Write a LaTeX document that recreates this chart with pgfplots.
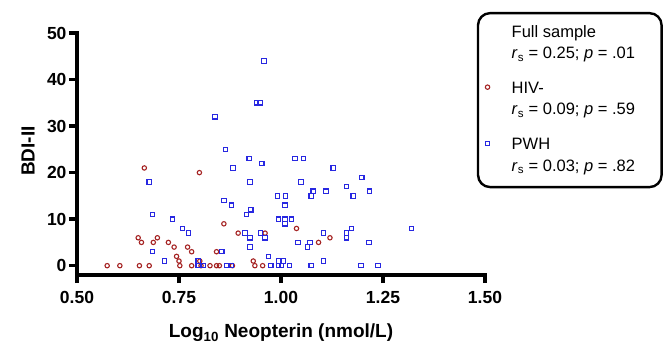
\documentclass[border=0pt]{standalone}
\usepackage{pgfplots}
\pgfplotsset{compat=1.18}
\usepackage{fontspec}
\setmainfont{Liberation Sans}
\definecolor{hivred}{RGB}{165,35,35}
\definecolor{pwhblue}{RGB}{40,40,225}
\begin{document}
\begin{tikzpicture}
\useasboundingbox (-77pt,-68pt) rectangle (590pt,275pt);
\begin{axis}[
  scale only axis, width=408pt, height=242pt,
  xmin=0.5, xmax=1.5, ymin=-2, ymax=50,
  axis lines=left,
  axis line style={line width=3.4pt, -, line cap=rect},
  x axis line style={line width=3.4pt},
  y axis line style={line width=3.4pt},
  tick style={line width=3.4pt, black},
  major tick length=8pt, tick align=outside, tick pos=left,
  xtick={0.5,0.75,1,1.25,1.5},
  xticklabels={0.50,0.75,1.00,1.25,1.50},
  ytick={0,10,20,30,40,50},
  /pgf/number format/assume math mode=true,
  tick label style={font=\bfseries\fontsize{17.5pt}{20pt}\selectfont},
  xticklabel style={yshift=-5pt},
  yticklabel style={xshift=1pt},
  xlabel={Log\textsubscript{10} Neopterin (nmol/L)},
  ylabel={BDI-II},
  label style={font=\bfseries\fontsize{19pt}{22pt}\selectfont},
  xlabel style={at={(axis description cs:0.5,-0.26)}, anchor=base},
  ylabel style={at={(axis description cs:-0.12,0.512)}, anchor=center},
  clip=false,
  legend style={at={(axis description cs:0.98,1.087)}, anchor=north west,
    draw=black, line width=2.4pt, rounded corners=12pt,
    font=\fontsize{16.5pt}{19pt}\selectfont,
    nodes={inner sep=0pt, text height=, text depth=},
    cells={anchor=base west},
    inner xsep=6.5pt, inner ysep=12pt, row sep=0pt, column sep=22pt},
  legend cell align=left,
  legend image code/.code={\draw[mark repeat=2, mark phase=2, #1] plot coordinates {(0pt,5.5pt) (3pt,5.5pt) (6pt,5.5pt)};},
]
\addlegendimage{empty legend}
\addlegendentry{\rule[-9.9pt]{0pt}{13pt}Full sample}
\addlegendimage{empty legend}
\addlegendentry{\rule[-23.5pt]{0pt}{15pt}\textit{r}\textsubscript{s} = 0.25; \textit{p} = .01\rule{20pt}{0pt}}
\addplot[only marks, mark=o, mark size=2.2pt, color=hivred, mark options={solid, sharp corners, line width=1.1pt}] coordinates {
(0.665,21) (0.800,20) (0.860,9) (0.895,7) (0.961,7) (1.038,8) (1.120,6) (1.092,5)
(0.650,6) (0.658,5) (0.687,5) (0.697,6) (0.724,5) (0.738,4) (0.771,4) (0.781,3) (0.842,3)
(0.744,2) (0.750,1) (0.801,1) (0.932,1)
(0.574,0) (0.605,0) (0.653,0) (0.677,0) (0.752,0) (0.781,0) (0.804,0) (0.826,0) (0.842,0)
(0.849,0) (0.881,0) (0.936,0) (0.955,0)
};
\addlegendentry{\rule[-9.9pt]{0pt}{15pt}HIV-}
\addlegendimage{empty legend}
\addlegendentry{\rule[-23.5pt]{0pt}{15pt}\textit{r}\textsubscript{s} = 0.09; \textit{p} = .59}
\addplot[only marks, mark=square, mark size=2.2pt, color=pwhblue, mark options={solid, sharp corners, line width=1.1pt}] coordinates {
(0.958,44) (0.940,35) (0.949,35) (0.838,32) (0.864,25) (0.922,23) (1.034,23) (1.055,23)
(0.953,22) (0.882,21) (1.128,21) (1.198,19) (0.677,18) (0.924,18) (1.049,18) (1.161,17)
(1.079,16) (1.110,16) (1.217,16) (0.991,15) (1.011,15) (1.074,15) (1.177,15) (0.860,14)
(0.879,13) (1.010,13) (0.926,12) (0.685,11) (0.916,11) (0.734,10) (0.994,10) (1.010,10)
(1.026,10) (1.010,9) (0.758,8) (1.173,8) (1.320,8) (0.773,7) (0.912,7) (0.950,7)
(1.104,7) (1.161,7) (0.924,6) (0.961,6) (1.161,6) (1.042,5) (1.071,5) (1.216,5)
(0.924,4) (1.065,4) (0.685,3) (0.855,3) (0.969,2) (0.714,1) (0.797,1) (0.994,1)
(1.006,1) (1.104,1)
(0.797,0) (0.810,0) (0.867,0) (0.879,0) (0.975,0) (0.994,0) (1.001,0) (1.021,0)
(1.074,0) (1.196,0) (1.238,0)
};
\addlegendentry{\rule[-9.9pt]{0pt}{15pt}PWH}
\addlegendimage{empty legend}
\addlegendentry{\rule[-4pt]{0pt}{15pt}\textit{r}\textsubscript{s} = 0.03; \textit{p} = .82}
\end{axis}
\end{tikzpicture}
\end{document}
